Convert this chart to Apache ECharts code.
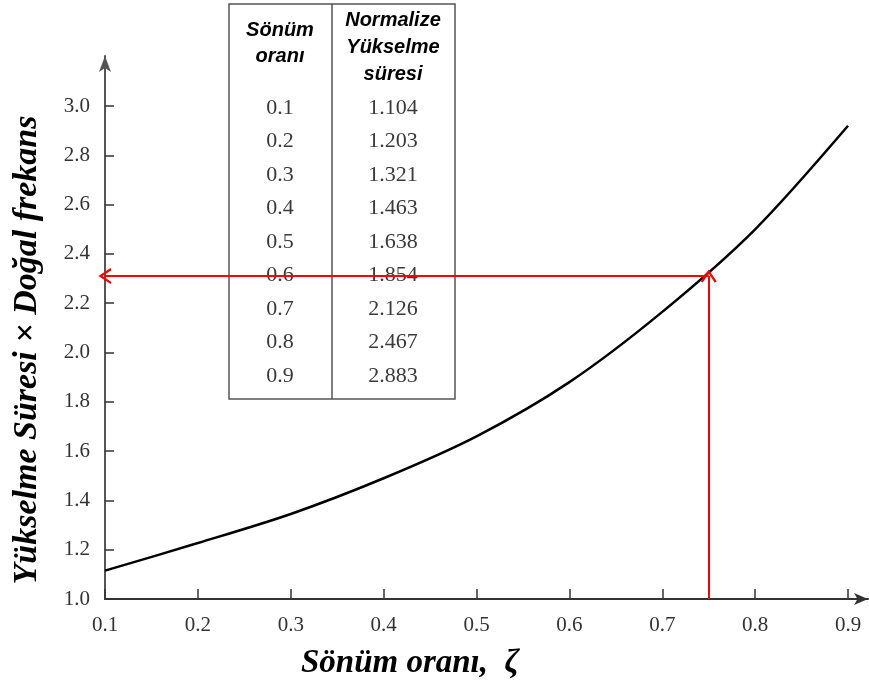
<!DOCTYPE html>
<html>
<head>
<meta charset="utf-8">
<script src="https://cdn.jsdelivr.net/npm/echarts@6/dist/echarts.min.js"></script>
<style>
  html, body { margin: 0; padding: 0; background: #fff; }
  #chart { width: 869px; height: 684px; }
</style>
</head>
<body>
<div id="chart"></div>
<script>
// curve
const zeta = [0.1, 0.2, 0.3, 0.4, 0.5, 0.6, 0.7, 0.8, 0.9];
const riseTime = [1.115, 1.227, 1.345, 1.49, 1.66, 1.88, 2.165, 2.5, 2.92];

// table in the top corner
const tableZeta = ['0.1', '0.2', '0.3', '0.4', '0.5', '0.6', '0.7', '0.8', '0.9'];
const tableRise = ['1.104', '1.203', '1.321', '1.463', '1.638', '1.854', '2.126', '2.467', '2.883'];

// reading point (red arrows)
const readZeta = 0.75;
const readRise = 2.31;

const xTicks = [0.1, 0.2, 0.3, 0.4, 0.5, 0.6, 0.7, 0.8, 0.9];
const yTicks = [1.0, 1.2, 1.4, 1.6, 1.8, 2.0, 2.2, 2.4, 2.6, 2.8, 3.0];

// open arrow head, tip up
const chevron = 'path://M0,12 L7,0 L14,12 L12.2,13 L7,4 L1.8,13 Z';

const myChart = echarts.init(document.getElementById('chart'));

// table graphic
const tbl = [];
tbl.push({ type: 'rect', shape: { x: 229, y: 4, width: 226, height: 395 },
  style: { fill: '#fff', stroke: '#555', lineWidth: 1.5 } });
tbl.push({ type: 'line', shape: { x1: 332, y1: 4, x2: 332, y2: 399 },
  style: { stroke: '#555', lineWidth: 1.5 } });
const headFont = 'italic bold 20px "Liberation Sans", Arial, sans-serif';
[['Sönüm', 280, 30], ['oranı', 280, 56], ['Normalize', 393, 20], ['Yükselme', 393, 47], ['süresi', 393, 74]]
  .forEach(h => tbl.push({ type: 'text', x: h[1], y: h[2],
    style: { text: h[0], font: headFont, fill: '#000', align: 'center', verticalAlign: 'middle' } }));
tableZeta.forEach((z, i) => {
  const y = 108 + i * 33.5;
  tbl.push({ type: 'text', x: 280, y: y,
    style: { text: z, font: '22px "Liberation Serif", serif', fill: '#3a3a3a', align: 'center', verticalAlign: 'middle' } });
  tbl.push({ type: 'text', x: 393, y: y,
    style: { text: tableRise[i], font: '22px "Liberation Serif", serif', fill: '#3a3a3a', align: 'center', verticalAlign: 'middle' } });
});

const option = {
  animation: false,
  backgroundColor: '#fff',
  grid: { left: 105, right: 1, top: 56, bottom: 85 },
  xAxis: {
    type: 'value',
    min: 0.1,
    max: 0.9215,
    splitLine: { show: false },
    axisLine: { lineStyle: { color: '#333', width: 2 }, symbol: ['none', 'arrow'], symbolSize: [9, 14] },
    axisTick: { inside: true, length: 10, customValues: xTicks, lineStyle: { color: '#333', width: 1.5 } },
    axisLabel: {
      customValues: xTicks, margin: 16, color: '#333',
      fontFamily: '"Liberation Serif", serif', fontSize: 21,
      formatter: v => v.toFixed(1)
    }
  },
  yAxis: {
    type: 'value',
    min: 1.0,
    max: 3.203,
    splitLine: { show: false },
    axisLine: { lineStyle: { color: '#555', width: 2 }, symbol: ['none', 'arrow'], symbolSize: [9, 16] },
    axisTick: { inside: true, length: 9, customValues: yTicks, lineStyle: { color: '#333', width: 1.5 } },
    axisLabel: {
      customValues: yTicks, margin: 15, color: '#333',
      fontFamily: '"Liberation Serif", serif', fontSize: 21,
      formatter: v => v.toFixed(1)
    }
  },
  graphic: [
    { type: 'group', z: 1, children: tbl },
    { type: 'text', x: 410, y: 663, z: 5,
      style: { text: 'Sönüm oranı,  ζ', font: 'italic bold 33px "Liberation Serif", serif', fill: '#000',
        align: 'center', verticalAlign: 'middle' } },
    { type: 'text', x: 27, y: 350, rotation: Math.PI / 2, z: 5,
      style: { text: 'Yükselme Süresi × Doğal frekans', font: 'italic bold 34px "Liberation Serif", serif', fill: '#000',
        align: 'center', verticalAlign: 'middle' } }
  ],
  series: [
    {
      type: 'line',
      smooth: 0.3,
      symbol: 'none',
      z: 3,
      lineStyle: { color: '#000', width: 2.5 },
      data: zeta.map((z, i) => [z, riseTime[i]]),
      markLine: {
        silent: true,
        symbol: ['none', chevron],
        symbolSize: [16, 13],
        label: { show: false },
        lineStyle: { color: '#ff0000', width: 2, type: 'solid' },
        data: [
          [{ coord: [readZeta, readRise] }, { coord: [0.1, readRise] }],
          [{ coord: [readZeta, 1.0] }, { coord: [readZeta, readRise] }]
        ]
      }
    }
  ]
};

myChart.setOption(option);
</script>
</body>
</html>
